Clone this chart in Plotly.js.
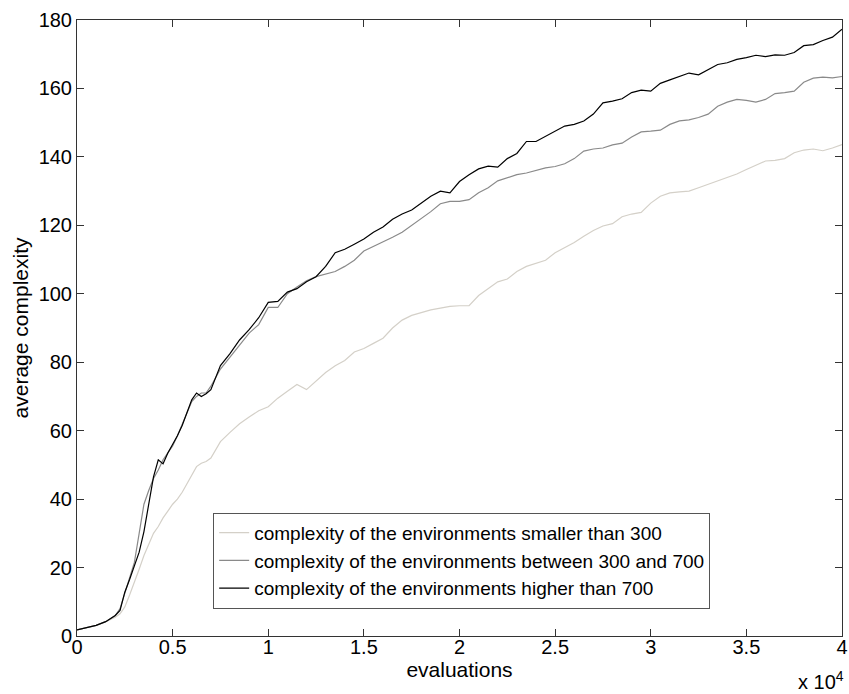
<!DOCTYPE html>
<html>
<head>
<meta charset="utf-8">
<script src="https://cdn.plot.ly/plotly-3.0.1.min.js"></script>
<style>html,body{margin:0;padding:0;background:#fff;}#chart{width:849px;height:694px;}</style>
</head>
<body>
<div id="chart"></div>
<script>
// evaluations (x 10^4)
const evaluations = [0,0.05,0.1,0.15,0.2,0.225,0.25,0.275,0.3,0.325,0.35,0.375,0.4,0.425,0.45,0.475,0.5,0.525,0.55,0.575,0.6,0.625,0.65,0.675,0.7,
0.75,0.8,0.85,0.9,0.95,
1.0,1.05,1.1,1.15,1.2,1.25,1.3,1.35,1.4,1.45,1.5,1.55,1.6,1.65,1.7,1.75,1.8,1.85,1.9,1.95,
2.0,2.05,2.1,2.15,2.2,2.25,2.3,2.35,2.4,2.45,2.5,2.55,2.6,2.65,2.7,2.75,2.8,2.85,2.9,2.95,
3.0,3.05,3.1,3.15,3.2,3.25,3.3,3.35,3.4,3.45,3.5,3.55,3.6,3.65,3.7,3.75,3.8,3.85,3.9,3.95,4.0];

const smallerThan300 = [1.8,2.4,3.1,4.2,5.5,6.5,8.5,12,15.5,19.5,23.5,27,30,32,34.5,36.5,38.5,40,42,44.5,47,49.5,50.5,51,52,
56.8,59.5,62,64,65.8,
67,69.5,71.5,73.5,72,74.5,77,79,80.5,83,84,85.5,87,90,92.3,93.7,94.5,95.3,95.8,96.3,
96.5,96.5,99.5,101.5,103.5,104.3,106.5,108,109,109.8,112,113.5,115,116.8,118.5,119.8,120.5,122.5,123.3,123.8,
126.5,128.5,129.5,129.8,130,131,132,133,134,135,136.3,137.5,138.8,139,139.5,141.2,142,142.3,141.8,142.6,143.6];

const between300and700 = [1.8,2.4,3.1,4.2,6.0,8.0,12.5,17,21.5,30,38.5,42.5,46,48.5,51.5,53.5,55.5,58.5,62,65.5,68.5,70,71,71,73,
78,81.5,85,88.5,91,
96,96,100,102,103.8,105,105.8,106.5,108,109.8,112.5,113.8,115,116.5,118,120,121.8,124,126.3,127,
127,127.5,129.5,131,133,133.8,134.8,135.3,136,136.8,137.2,138,139.5,141.7,142.3,142.6,143.5,144,145.8,147.3,
147.5,147.8,149.5,150.5,150.8,151.5,152.5,154.8,156,156.8,156.5,156,156.8,158.5,158.8,159.2,161.8,163,163.3,163.1,163.5];

const higherThan700 = [1.8,2.4,3.1,4.2,6.0,7.5,12.8,16.5,20.5,24.5,30.5,39,46.5,51.5,50.3,53.5,56,58.5,61.5,65.5,69,71,70,70.8,72,
79,82.5,86.5,89.5,93,
97.5,97.8,100.5,101.5,103.5,105,108,112,113,114.5,116,118,119.5,121.8,123.3,124.5,126.5,128.5,130,129.5,
132.8,134.8,136.5,137.3,137,139.5,141,144.5,144.5,146,147.5,149,149.5,150.5,152.5,155.8,156.3,157,158.8,159.5,
159.2,161.5,162.5,163.5,164.5,164,165.5,167,167.5,168.5,169,169.7,169.3,169.8,169.7,170.5,172.5,172.8,174,175,177.3];

const seriesNames = [
  'complexity of the environments smaller than 300',
  'complexity of the environments between 300 and 700',
  'complexity of the environments higher than 700'
];
const seriesColors = ['#d4d0c8', '#8a8a8a', '#000000'];
const seriesValues = [smallerThan300, between300and700, higherThan700];

const traces = seriesValues.map((vals, i) => ({
  type: 'scatter', mode: 'lines',
  x: evaluations, y: vals,
  name: seriesNames[i],
  line: {color: seriesColors[i], width: 1.2}
}));

const FAM = 'Liberation Sans, Arial, sans-serif';

const layout = {
  width: 849, height: 694,
  margin: {l: 77, r: 7, t: 20, b: 58},
  paper_bgcolor: '#fff', plot_bgcolor: '#fff',
  font: {family: FAM, color: '#000', size: 20},
  showlegend: true,
  legend: {
    x: 0.178, y: 0.2, xanchor: 'left', yanchor: 'top',
    bgcolor: '#fff', bordercolor: '#555', borderwidth: 1,
    font: {family: FAM, size: 19, color: '#000'},
    itemwidth: 30
  },
  xaxis: {
    range: [0, 4], dtick: 0.5, tick0: 0,
    ticks: 'inside', ticklen: 7, tickcolor: '#333',
    showline: true, linecolor: '#333', linewidth: 1, mirror: 'ticks',
    showgrid: false, zeroline: false,
    tickfont: {family: FAM, size: 20},
    ticklabelstandoff: -7,
    title: {text: 'evaluations', font: {family: FAM, size: 21}, standoff: 0}
  },
  yaxis: {
    range: [0, 180], dtick: 20, tick0: 0,
    ticks: 'inside', ticklen: 7, tickcolor: '#333',
    showline: true, linecolor: '#333', linewidth: 1, mirror: 'ticks',
    showgrid: false, zeroline: false,
    tickfont: {family: FAM, size: 20},
    title: {text: 'average complexity', font: {family: FAM, size: 21}, standoff: 4}
  },
  annotations: [{
    xref: 'paper', yref: 'paper', x: 1, y: 0, xanchor: 'right', yanchor: 'top',
    yshift: -30, xshift: 4, showarrow: false,
    text: 'x 10<sup>4</sup>', font: {family: FAM, size: 20}
  }]
};

Plotly.newPlot('chart', traces, layout, {displayModeBar: false, staticPlot: true});
</script>
</body>
</html>
